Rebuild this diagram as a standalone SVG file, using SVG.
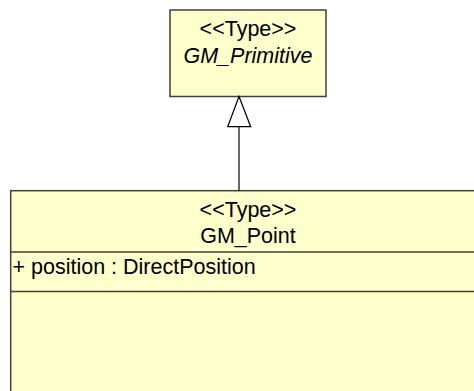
<svg xmlns="http://www.w3.org/2000/svg" width="474" height="391" viewBox="0 0 474 391">
<style>
.box{fill:#FFFFCC;stroke:#404040;stroke-width:1.5}
.div{stroke:#404040;stroke-width:1.5}
.t{font-family:"Liberation Sans",Arial,sans-serif;font-size:21.5px;fill:#000}
.c{text-anchor:middle}
.i{font-style:italic}
.conn{stroke:#000;stroke-width:1.2;fill:none}
</style>
<rect width="474" height="391" fill="#fff"/>
<g id="GM_Primitive">
<rect class="box" x="170" y="10" width="156" height="86.5"/>
<text class="t c" x="248" y="36">&lt;&lt;Type&gt;&gt;</text>
<text class="t c i" x="248" y="62.7">GM_Primitive</text>
</g>
<g id="GM_Point">
<rect class="box" x="10.7" y="190.7" width="475" height="215"/>
<text class="t c" x="248" y="216.7">&lt;&lt;Type&gt;&gt;</text>
<text class="t c" x="248" y="243.3">GM_Point</text>
<line class="div" x1="10.7" y1="252" x2="486" y2="252"/>
<text class="t" x="12.5" y="274">+ position : DirectPosition</text>
<line class="div" x1="10.7" y1="291.5" x2="486" y2="291.5"/>
</g>
<g id="connectors">
<line class="conn" x1="239" y1="126.7" x2="239" y2="190.7"/>
<polygon class="conn" points="239,96.5 227.7,126.7 250.7,126.7" style="fill:#fff"/>
</g>
</svg>
